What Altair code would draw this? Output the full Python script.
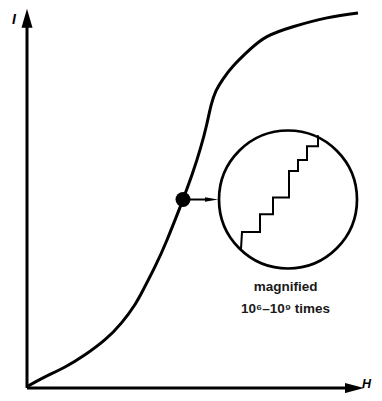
import altair as alt
import pandas as pd

# Main S-curve (H, I)
curve_h = [0, 17, 37, 57, 77, 93.7, 107, 115.3, 127, 139, 152, 155, 164, 172.5, 178.5, 183, 188, 195, 205, 222, 239, 265, 299, 330]
curve_i = [1, 10.3, 20.3, 32.7, 48, 65.3, 83.7, 98.7, 122, 149, 182, 190, 215, 242, 265, 285, 300, 312, 325, 342, 355, 365, 374, 379]

# Staircase inside the magnifier
stair_h = [213, 214, 232, 232, 245, 245, 261, 261, 270, 270, 279, 279, 290, 290]
stair_i = [140, 157, 157, 175, 175, 192, 192, 219, 219, 230, 230, 244, 244, 255]

# Marked point, magnifier centre, pointer arrow
dot_h, dot_i = [155], [190]
lens_h, lens_i = [260], [190]
ptr_h = [162, 180]
ptr_i = [190, 190]

# Axes
yaxis_h, yaxis_i = [-1, -1], [-1, 372]
xaxis_h, xaxis_i = [-1, 318], [-1, -1]

labels_text = ["magnified", "10\u2076\u201310\u2079 times"]
labels_h = [257.5, 257.5]
labels_i = [97, 75]

XS = alt.Scale(domain=[-20, 346], nice=False, zero=False)
YS = alt.Scale(domain=[-6, 384], nice=False, zero=False)

def enc(**kw):
    return dict(
        x=alt.X("h:Q", scale=XS, axis=None),
        y=alt.Y("i:Q", scale=YS, axis=None),
        **kw,
    )

curve_df = pd.DataFrame({"h": curve_h, "i": curve_i, "o": range(len(curve_h))})
stair_df = pd.DataFrame({"h": stair_h, "i": stair_i, "o": range(len(stair_h))})

curve = alt.Chart(curve_df).mark_line(color="black", strokeWidth=3, interpolate="natural").encode(
    **enc(order="o:Q"))
stairs = alt.Chart(stair_df).mark_line(color="black", strokeWidth=2).encode(**enc(order="o:Q"))

yaxis = alt.Chart(pd.DataFrame({"h": yaxis_h, "i": yaxis_i})).mark_line(color="black", strokeWidth=3).encode(**enc())
xaxis = alt.Chart(pd.DataFrame({"h": xaxis_h, "i": xaxis_i})).mark_line(color="black", strokeWidth=3).encode(**enc())

yhead = alt.Chart(pd.DataFrame({"h": [-1], "i": [373.5]})).mark_point(
    shape="M0,-1L0.58,1L-0.58,1Z", filled=True, size=361, color="black", opacity=1).encode(**enc())
xhead = alt.Chart(pd.DataFrame({"h": [326.5], "i": [-1]})).mark_point(
    shape="M1,0L-1,-0.53L-1,0.53Z", filled=True, size=361, color="black", opacity=1).encode(**enc())

dot = alt.Chart(pd.DataFrame({"h": dot_h, "i": dot_i})).mark_point(
    shape="circle", filled=True, size=225, color="black", opacity=1).encode(**enc())
lens = alt.Chart(pd.DataFrame({"h": lens_h, "i": lens_i})).mark_point(
    shape="circle", filled=False, size=19044, color="black", strokeWidth=2.7, opacity=1).encode(**enc())

ptr = alt.Chart(pd.DataFrame({"h": ptr_h, "i": ptr_i})).mark_line(color="black", strokeWidth=2).encode(**enc())
ptrhead = alt.Chart(pd.DataFrame({"h": [183.5], "i": [190]})).mark_point(
    shape="M1,0L-1,-0.35L-1,0.35Z", filled=True, size=169, color="black", opacity=1).encode(**enc())

labels = alt.Chart(pd.DataFrame({"h": labels_h, "i": labels_i, "t": labels_text})).mark_text(
    font="Liberation Sans", fontSize=13.5, fontWeight="bold", color="#1a1a1a", align="center",
    baseline="alphabetic"
).encode(**enc(text="t:N"))

ylab = alt.Chart(pd.DataFrame({"h": [-16], "i": [372], "t": ["I"]})).mark_text(
    font="Liberation Sans", fontSize=14, fontWeight="bold", fontStyle="italic", color="black",
    align="left", baseline="middle"
).encode(**enc(text="t:N"))
xlab = alt.Chart(pd.DataFrame({"h": [343], "i": [3], "t": ["H"]})).mark_text(
    font="Liberation Sans", fontSize=12.5, fontWeight="bold", fontStyle="italic", color="black",
    align="right", baseline="middle"
).encode(**enc(text="t:N"))

chart = alt.layer(yaxis, xaxis, yhead, xhead, curve, stairs, lens, ptr, ptrhead, dot, labels, ylab, xlab).properties(
    width=366, height=385, padding=0, autosize=alt.AutoSizeParams(type="none")
).configure_view(stroke=None)

chart.save("out.html", embed_options={"renderer": "svg", "actions": False})
